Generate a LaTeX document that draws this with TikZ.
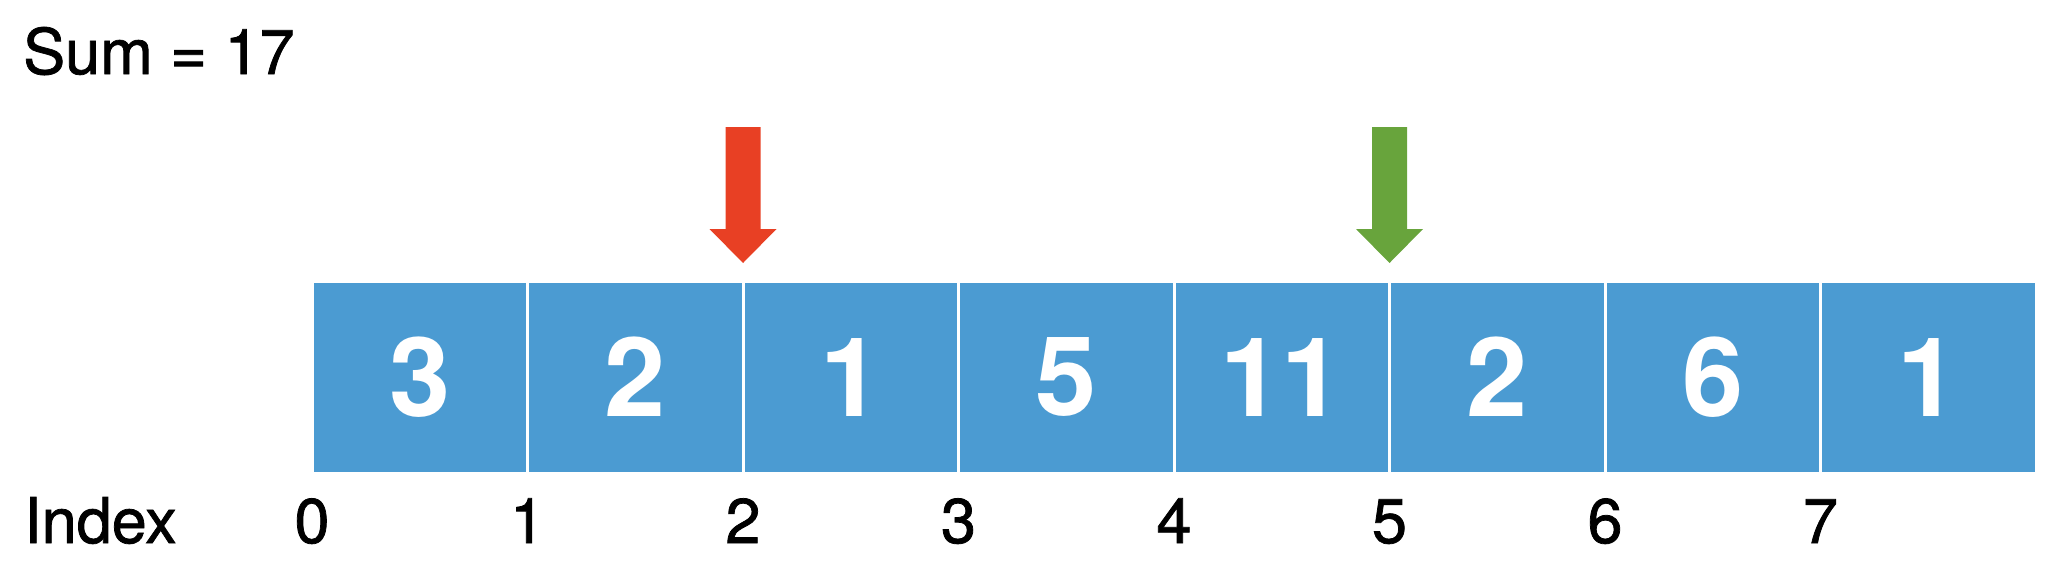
\documentclass[tikz,border=0pt]{standalone}
\usepackage{fontspec}
\setmainfont{TeX Gyre Heros}
\newfontfamily\labelfont[FakeBold=1.2]{TeX Gyre Heros}
\definecolor{cellblue}{RGB}{75,155,210}
\definecolor{arrred}{RGB}{232,64,36}
\definecolor{arrgreen}{RGB}{104,164,60}
\begin{document}
\begin{tikzpicture}[x=1pt,y=-1pt,
  cell/.style={rectangle,fill=cellblue,draw=white,line width=3pt,
    minimum width=215.5pt,minimum height=192pt,inner sep=0pt,outer sep=0pt,
    anchor=north west,text=white,font=\fontsize{110}{120}\selectfont\bfseries},
  idx/.style={anchor=base,font=\labelfont\fontsize{63}{70}\selectfont},
  lbl/.style={anchor=base west,inner sep=0pt,font=\labelfont\fontsize{63}{70}\selectfont}]
\useasboundingbox (0,0) rectangle (2062,582);
\node[lbl] (sum) at (23,74) {Sum = 17};
\node[lbl] (index) at (24,543) {Index};
\foreach \v [count=\i from 0] in {3,2,1,5,11,2,6,1}{
  \node[cell] (c\i) at (312+\i*215.5,281) {\v};
  \node[idx] (i\i) at (312+\i*215.5,543) {\i};
}
\coordinate (rtip) at ([yshift=18pt]c2.north west);
\coordinate (gtip) at ([yshift=18pt]c5.north west);
\fill[arrred] (rtip) -- ++(-33.5,-34) -- ++(16,0) -- ++(0,-102) -- ++(35,0) -- ++(0,102) -- ++(16,0) -- cycle;
\fill[arrgreen] (gtip) -- ++(-33.5,-34) -- ++(16,0) -- ++(0,-102) -- ++(35,0) -- ++(0,102) -- ++(16,0) -- cycle;
\end{tikzpicture}
\end{document}
